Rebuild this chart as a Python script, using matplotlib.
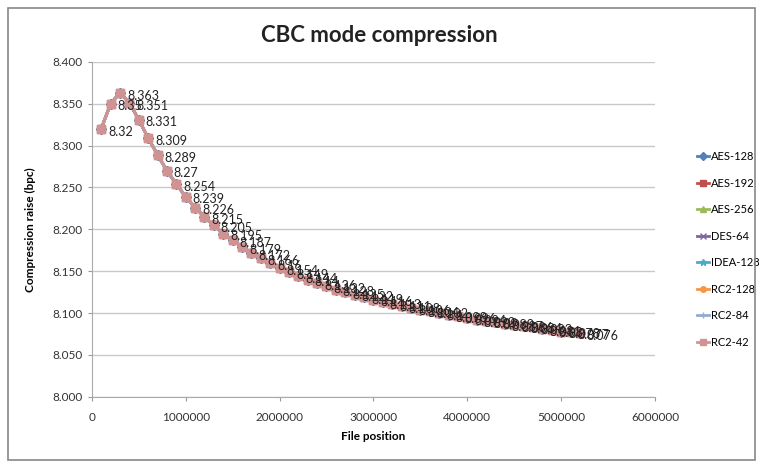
import matplotlib.pyplot as plt
import matplotlib.patches as patches
import numpy as np

plt.rcParams['font.family'] = ['Lato', 'DejaVu Sans']

# file positions (one sample every 100000 bytes)
positions = [k * 100000 for k in range(1, 53)]

# compression raise in bpc
raise_bpc = [8.320, 8.350, 8.363, 8.351, 8.331, 8.309, 8.289, 8.270, 8.254, 8.239,
             8.226, 8.215, 8.205, 8.195, 8.187, 8.179, 8.172, 8.166, 8.160, 8.154,
             8.149, 8.144, 8.140, 8.136, 8.132, 8.128, 8.125, 8.122, 8.119, 8.116,
             8.113, 8.111, 8.108, 8.106, 8.104, 8.102, 8.100, 8.098, 8.096, 8.094,
             8.092, 8.090, 8.089, 8.087, 8.086, 8.084, 8.083, 8.081, 8.080, 8.078,
             8.077, 8.076]

ciphers = ['AES-128', 'AES-192', 'AES-256', 'DES-64', 'IDEA-128', 'RC2-128', 'RC2-84', 'RC2-42']
colors = ['#4F81BD', '#C0504D', '#9BBB59', '#8064A2', '#4BACC6', '#F79646', '#93A9CF', '#D19392']
markers = ['D', 's', '^', 'x', '*', 'o', '+', 's']
msizes = [5, 6, 5, 5, 6, 5, 5, 6]

yticks = [8.0, 8.05, 8.1, 8.15, 8.2, 8.25, 8.3, 8.35, 8.4]
xticks = [0, 1000000, 2000000, 3000000, 4000000, 5000000, 6000000]

fig = plt.figure(figsize=(7.59, 4.68), dpi=100)
ax = fig.add_axes([0.121, 0.152, 0.742, 0.716])

for name, c, m, ms in zip(ciphers, colors, markers, msizes):
    ax.plot(positions, raise_bpc, color=c, marker=m, markersize=ms, lw=2,
            markeredgecolor=c, label=name)

# data labels (Excel style, right of point)
for x, y in zip(positions, raise_bpc):
    ax.annotate(('%.3f' % y).rstrip('0'), (x, y), xytext=(5, -2),
                textcoords='offset points', fontsize=9, color='#222222',
                ha='left', va='center')

ax.set_xlim(0, 6000000)
ax.set_ylim(8.0, 8.4)
ax.set_yticks(yticks)
ax.set_yticklabels(['%.3f' % v for v in yticks], fontsize=8.5, color='#333333')
ax.set_xticks(xticks)
ax.set_xticklabels([str(v) for v in xticks], fontsize=8.5, color='#333333')
ax.tick_params(axis='both', length=3, color='#999999')
ax.tick_params(axis='x', pad=8)
ax.grid(axis='y', color='#c8c8c8', lw=1)
ax.set_axisbelow(True)
for s in ['top', 'right']:
    ax.spines[s].set_visible(False)
for s in ['left', 'bottom']:
    ax.spines[s].set_color('#aaaaaa')

ax.set_xlabel('File position', fontsize=8.5, fontweight='bold', labelpad=6)
ax.set_ylabel('Compression raise (bpc)', fontsize=8.5, fontweight='bold', labelpad=12)
fig.text(0.5, 0.925, 'CBC mode compression', ha='center', va='center',
         fontsize=16, fontweight='bold', color='#222222')

leg = ax.legend(loc='center left', bbox_to_anchor=(1.075, 0.44), frameon=False,
                fontsize=8, handlelength=1.1, labelspacing=1.4, handletextpad=0.15,
                borderpad=0, borderaxespad=0, markerscale=0.8)

fig.patches.append(patches.Rectangle((0.01, 0.017), 0.985, 0.965, transform=fig.transFigure,
                                     fill=False, edgecolor='#888888', lw=1.2))

fig.savefig('out.png', dpi=100)
